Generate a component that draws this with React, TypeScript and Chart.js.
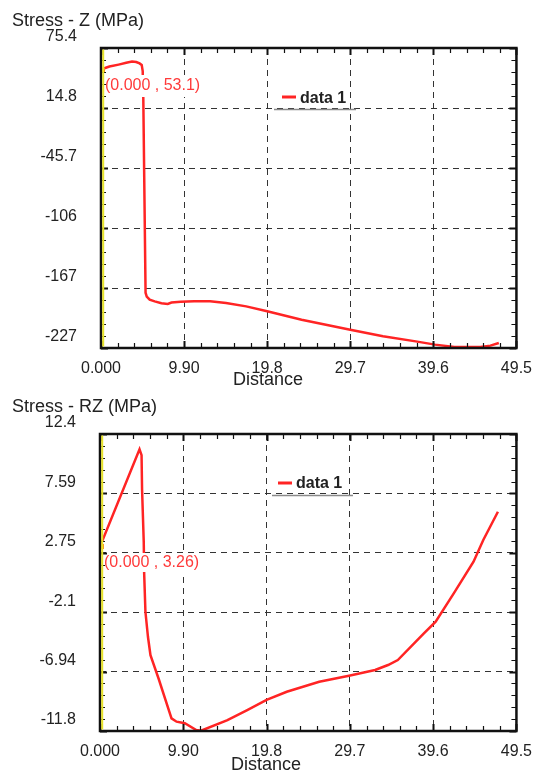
import React, { useEffect, useRef } from "react";
import { Chart, registerables } from "chart.js";

Chart.register(...registerables);

// ---------- data ----------
const zDistance = [0, 0.5, 1.0, 2.1, 3.0, 3.7, 4.2, 4.6, 4.85, 4.97, 5.04, 5.31, 5.45, 5.8, 6.4, 7.2, 7.95, 8.4, 9.5, 11.1, 13.0, 14.9, 17.3, 19.8, 23.9, 29.7, 33.6, 37.5, 39.8, 42.1, 45.2, 46.4, 47.4];
const zStress = [53.1, 55.2, 56.6, 58.6, 60.4, 61.6, 61.2, 59.8, 58.3, 52.0, 25.0, -171.6, -175.5, -178.6, -180.3, -182.3, -182.9, -181.5, -180.8, -180.3, -180.3, -181.9, -185.4, -190.4, -198.8, -208.9, -215.6, -220.7, -224.0, -226.3, -226.3, -225.0, -222.3];

const rzDistance = [0, 4.7, 4.94, 5.0, 5.2, 5.25, 5.4, 5.7, 6.0, 6.96, 8.5, 9.1, 10.08, 11.44, 12.0, 15.15, 17.5, 19.8, 22.2, 26.06, 29.6, 32.7, 34.24, 35.4, 38.5, 39.9, 42.05, 44.4, 45.56, 47.3];
const rzStress = [3.26, 11.18, 10.71, 7.9, 3.65, 1.07, -2.06, -4.1, -5.6, -7.5, -10.75, -11.02, -11.15, -11.7, -11.76, -10.9, -10.07, -9.25, -8.58, -7.76, -7.27, -6.81, -6.4, -6.0, -3.82, -2.87, -0.56, 2.02, 3.79, 6.09];

const xMin = 0;
const xMax = 49.5;
const xTickLabels = ["0.000", "9.90", "19.8", "29.7", "39.6", "49.5"];

const zMin = -227.4;
const zMax = 75.35;
const zTickLabels = ["-227", "-167", "-106", "-45.7", "14.8", "75.4"];

const rzMin = -11.78;
const rzMax = 12.43;
const rzTickLabels = ["-11.8", "-6.94", "-2.1", "2.75", "7.59", "12.4"];

const seriesName = "data 1";
const zTitle = "Stress - Z (MPa)";
const rzTitle = "Stress - RZ (MPa)";
const xTitle = "Distance";
const zAnnotation = "(0.000 , 53.1)";
const rzAnnotation = "(0.000 , 3.26)";

const FONT = '"Liberation Sans", Arial, sans-serif';
const LINE_RED = "#ff2424";
const DIVS = 5;

type PanelProps = {
  top: number;
  height: number;
  padTop: number;
  padRight: number;
  yWidth: number;
  xHeight: number;
  xs: number[];
  ys: number[];
  yMin: number;
  yMax: number;
  yLabels: string[];
  title: string;
  titleY: number;
  xTitleX: number;
  xTitleY: number;
  annotation: string;
  annY: number;
  annTop: number;
  annBottom: number;
  legendLineY: number;
  legendTextY: number;
  legendX: number;
  legendUnderY: number;
  legendUnderX1: number;
  legendUnderX2: number;
};

function ChartPanel(p: PanelProps) {
  const ref = useRef<HTMLCanvasElement | null>(null);

  useEffect(() => {
    if (!ref.current) return;
    const xStep = (xMax - xMin) / 5;
    const yStep = (p.yMax - p.yMin) / 5;
    const xTicks = xTickLabels.map((_, i) => xMin + i * xStep);
    const yTicks = p.yLabels.map((_, i) => p.yMin + i * yStep);

    const decor = {
      id: "decor",
      afterDatasetsDraw(chart: any) {
        const ctx = chart.ctx as CanvasRenderingContext2D;
        const xs = chart.scales.x;
        const ys = chart.scales.y;
        // annotation with white background
        ctx.save();
        ctx.font = `16px ${FONT}`;
        const w = ctx.measureText(p.annotation).width;
        ctx.fillStyle = "#ffffff";
        ctx.fillRect(chart.chartArea.left + 3, p.annTop, w + 4, p.annBottom - p.annTop);
        ctx.fillStyle = "#ff3a3a";
        ctx.textBaseline = "middle";
        ctx.textAlign = "left";
        ctx.fillText(p.annotation, chart.chartArea.left + 4, p.annY);
        // start marker
        const sx = xs.getPixelForValue(p.xs[0]);
        const sy = ys.getPixelForValue(p.ys[0]);
        ctx.fillStyle = "#ff8c1a";
        ctx.fillRect(sx, sy - 2.5, 4, 5);
        ctx.restore();
      },
      afterDraw(chart: any) {
        const ctx = chart.ctx as CanvasRenderingContext2D;
        const a = chart.chartArea;
        const xs = chart.scales.x;
        const ys = chart.scales.y;
        ctx.save();
        // tick marks
        ctx.strokeStyle = "#111";
        // x minor/major
        for (let i = 0; i < xTicks.length; i++) {
          for (let k = 0; k < DIVS; k++) {
            if (i === xTicks.length - 1 && k > 0) break;
            const v = xTicks[i] + (k * xStep) / DIVS;
            const px = Math.round(xs.getPixelForValue(v)) + 0.5;
            const major = k === 0;
            const len = major ? 7 : 5;
            ctx.lineWidth = major ? 2 : 1.2;
            ctx.beginPath();
            ctx.moveTo(px, a.bottom);
            ctx.lineTo(px, a.bottom - len);
            ctx.moveTo(px, a.top);
            ctx.lineTo(px, a.top + len);
            ctx.stroke();
          }
        }
        for (let i = 0; i < yTicks.length; i++) {
          for (let k = 0; k < DIVS; k++) {
            if (i === yTicks.length - 1 && k > 0) break;
            const v = yTicks[i] + (k * yStep) / DIVS;
            const py = Math.round(ys.getPixelForValue(v)) + 0.5;
            const major = k === 0;
            const len = major ? 7 : 5;
            ctx.lineWidth = major ? 2 : 1.2;
            ctx.beginPath();
            ctx.moveTo(a.left, py);
            ctx.lineTo(a.left + len, py);
            ctx.moveTo(a.right, py);
            ctx.lineTo(a.right - len, py);
            ctx.stroke();
          }
        }
        // frame
        ctx.lineWidth = 2.5;
        ctx.strokeStyle = "#111";
        ctx.strokeRect(a.left, a.top, a.right - a.left, a.bottom - a.top);
        // yellow inner left line
        ctx.strokeStyle = "#e6e22a";
        ctx.lineWidth = 2;
        ctx.beginPath();
        ctx.moveTo(a.left + 2.2, a.top + 1.5);
        ctx.lineTo(a.left + 2.2, a.bottom - 1.5);
        ctx.stroke();
        // titles
        ctx.fillStyle = "#222";
        ctx.font = `18px ${FONT}`;
        ctx.textBaseline = "middle";
        ctx.textAlign = "left";
        ctx.fillText(p.title, 12, p.titleY);
        ctx.textAlign = "center";
        ctx.fillText(xTitle, p.xTitleX, p.xTitleY);
        // legend
        ctx.strokeStyle = "#8a8a8a";
        ctx.lineWidth = 1.5;
        ctx.beginPath();
        ctx.moveTo(p.legendUnderX1, p.legendUnderY);
        ctx.lineTo(p.legendUnderX2, p.legendUnderY);
        ctx.stroke();
        ctx.strokeStyle = LINE_RED;
        ctx.lineWidth = 3;
        ctx.beginPath();
        ctx.moveTo(p.legendX, p.legendLineY);
        ctx.lineTo(p.legendX + 14, p.legendLineY);
        ctx.stroke();
        ctx.fillStyle = "#222";
        ctx.font = `bold 16px ${FONT}`;
        ctx.textAlign = "left";
        ctx.fillText(seriesName, p.legendX + 18, p.legendTextY);
        ctx.restore();
      },
    };

    const chart = new Chart(ref.current, {
      type: "line",
      data: {
        datasets: [
          {
            label: seriesName,
            data: p.xs.map((x, i) => ({ x, y: p.ys[i] })),
            borderColor: LINE_RED,
            backgroundColor: LINE_RED,
            borderWidth: 2.5,
            pointRadius: 0,
            tension: 0,
            fill: false,
          },
        ],
      },
      options: {
        responsive: false,
        maintainAspectRatio: false,
        animation: false,
        layout: { padding: { top: p.padTop, right: p.padRight, left: 0, bottom: 0 } },
        plugins: {
          legend: { display: false },
          tooltip: { enabled: false },
          title: { display: false },
        },
        scales: {
          x: {
            type: "linear",
            min: xMin,
            max: xMax,
            afterBuildTicks: (s: any) => {
              s.ticks = xTicks.map((v) => ({ value: v }));
            },
            afterFit: (s: any) => {
              s.height = p.xHeight;
            },
            ticks: {
              autoSkip: false,
              maxRotation: 0,
              padding: 11,
              color: "#222",
              font: { family: FONT, size: 16 },
              callback: (_v: any, i: number) => xTickLabels[i],
            },
            grid: { color: "#333", lineWidth: 1, drawTicks: false },
            border: { display: false, dash: [6, 5] },
          },
          y: {
            type: "linear",
            min: p.yMin,
            max: p.yMax,
            afterBuildTicks: (s: any) => {
              s.ticks = yTicks.map((v) => ({ value: v }));
            },
            afterFit: (s: any) => {
              s.width = p.yWidth;
            },
            ticks: {
              autoSkip: false,
              padding: 24,
              labelOffset: -11,
              color: "#222",
              font: { family: FONT, size: 16 },
              callback: (_v: any, i: number) => p.yLabels[i],
            },
            grid: { color: "#333", lineWidth: 1, drawTicks: false },
            border: { display: false, dash: [6, 5] },
          },
        },
      },
      plugins: [decor],
    } as any);
    return () => chart.destroy();
  }, []);

  return (
    <canvas
      ref={ref}
      width={543}
      height={p.height}
      style={{ position: "absolute", left: 0, top: p.top, width: 543, height: p.height, display: "block" }}
    />
  );
}

export default function App() {
  return (
    <div style={{ position: "absolute", left: 0, top: 0, width: 543, height: 771, background: "#fff", overflow: "hidden" }}>
      <ChartPanel
        top={0}
        height={390}
        padTop={48}
        padRight={16}
        yWidth={101}
        xHeight={42}
        xs={zDistance}
        ys={zStress}
        yMin={zMin}
        yMax={zMax}
        yLabels={zTickLabels}
        title={zTitle}
        titleY={21}
        xTitleX={268}
        xTitleY={380}
        annotation={zAnnotation}
        annY={86}
        annTop={75}
        annBottom={97}
        legendLineY={97}
        legendTextY={99}
        legendX={282}
        legendUnderY={109.5}
        legendUnderX1={274}
        legendUnderX2={356}
      />
      <ChartPanel
        top={390}
        height={381}
        padTop={44}
        padRight={18}
        yWidth={100}
        xHeight={40}
        xs={rzDistance}
        ys={rzStress}
        yMin={rzMin}
        yMax={rzMax}
        yLabels={rzTickLabels}
        title={rzTitle}
        titleY={17}
        xTitleX={266}
        xTitleY={375}
        annotation={rzAnnotation}
        annY={173}
        annTop={163}
        annBottom={182}
        legendLineY={93}
        legendTextY={94}
        legendX={278}
        legendUnderY={105.5}
        legendUnderX1={272}
        legendUnderX2={353}
      />
    </div>
  );
}
